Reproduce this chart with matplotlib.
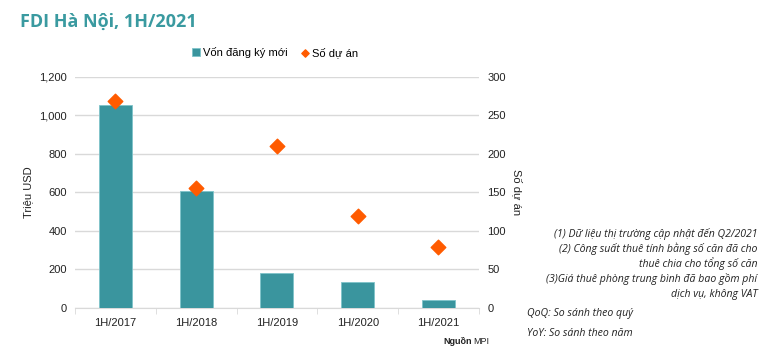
import numpy as np
import matplotlib.pyplot as plt

plt.rcParams['font.family'] = ['Liberation Sans', 'DejaVu Sans']

# data
categories = ['1H/2017', '1H/2018', '1H/2019', '1H/2020', '1H/2021']
von_dang_ky = [1050, 608, 181, 133, 39]
so_du_an = [268, 155, 210, 119, 79]

notes = [
    '(1) Dữ liệu thị trường cập nhật đến Q2/2021',
    '(2) Công suất thuê tính bằng số căn đã cho',
    'thuê chia cho tổng số căn',
    '(3)Giá thuê phòng trung bình đã bao gồm phí',
    'dịch vụ, không VAT',
]

teal = '#3A959E'
orange = '#FF5B00'
grid_c = '#D9D9D9'

fig = plt.figure(figsize=(7.75, 3.56), dpi=100)
ax = fig.add_axes([0.0968, 0.135, 0.521, 0.65])
ax2 = ax.twinx()

x = np.arange(len(categories))
ax.bar(x, von_dang_ky, width=0.41, color=teal, edgecolor='#7FC4CA', linewidth=0.6,
       zorder=3, label='Vốn đăng ký mới')
ax2.scatter(x, so_du_an, marker='D', s=55, color=orange, zorder=4, label='Số dự án')

ax.set_xlim(-0.5, len(categories) - 0.5)
ax.set_ylim(0, 1200)
ax.set_yticks(range(0, 1201, 200))
ax.set_yticklabels([f'{v:,}' for v in range(0, 1201, 200)])
ax2.set_ylim(0, 300)
ax2.set_yticks(range(0, 301, 50))

ax.yaxis.grid(True, color=grid_c, linewidth=1, zorder=0)
ax.set_axisbelow(True)
for a in (ax, ax2):
    for s in ['top', 'left', 'right']:
        a.spines[s].set_visible(False)
    a.spines['bottom'].set_color(grid_c)
    a.tick_params(axis='y', length=0, labelsize=8, colors='#222222', pad=6)
ax2.spines['bottom'].set_visible(False)

ax.set_xticks(x)
ax.set_xticklabels(categories)
ax.set_xticks(np.arange(-0.5, len(categories), 1), minor=True)
ax.tick_params(axis='x', which='major', length=0, labelsize=8, colors='#222222', pad=7)
ax.tick_params(axis='x', which='minor', length=4, color=grid_c)

ax.set_ylabel('Triệu USD', fontsize=8, color='#222222', labelpad=4)
ax2.set_ylabel('Số dự án', fontsize=8, color='#222222', rotation=270, labelpad=12)

h1, l1 = ax.get_legend_handles_labels()
h2, l2 = ax2.get_legend_handles_labels()
fig.legend(h1 + h2, l1 + l2, loc='center', bbox_to_anchor=(0.355, 0.853), ncol=2,
           frameon=False, fontsize=8, handlelength=0.7, handletextpad=0.3,
           columnspacing=1.2, markerscale=0.5)

fig.text(0.026, 0.94, 'FDI Hà Nội, 1H/2021', fontsize=13, fontweight='bold',
         color='#3A9AA0', family=['Open Sans', 'DejaVu Sans'], va='center')

note_kw = dict(fontsize=7.6, style='italic', family=['Open Sans', 'DejaVu Sans'],
               color='#222222', va='center')
note_y = [0.342, 0.302, 0.261, 0.217, 0.174]
for t, yy in zip(notes, note_y):
    fig.text(0.977, yy, t, ha='right', **note_kw)
fig.text(0.68, 0.118, 'QoQ: So sánh theo quý', ha='left', **note_kw)
fig.text(0.68, 0.062, 'YoY: So sánh theo năm', ha='left', **note_kw)

fig.text(0.572, 0.04, 'Nguồn', ha='left', va='center', fontsize=6.5, fontweight='bold',
         color='#222222')
fig.text(0.611, 0.04, 'MPI', ha='left', va='center', fontsize=6.5, color='#222222')

fig.savefig('out.png', dpi=100, facecolor='white')
